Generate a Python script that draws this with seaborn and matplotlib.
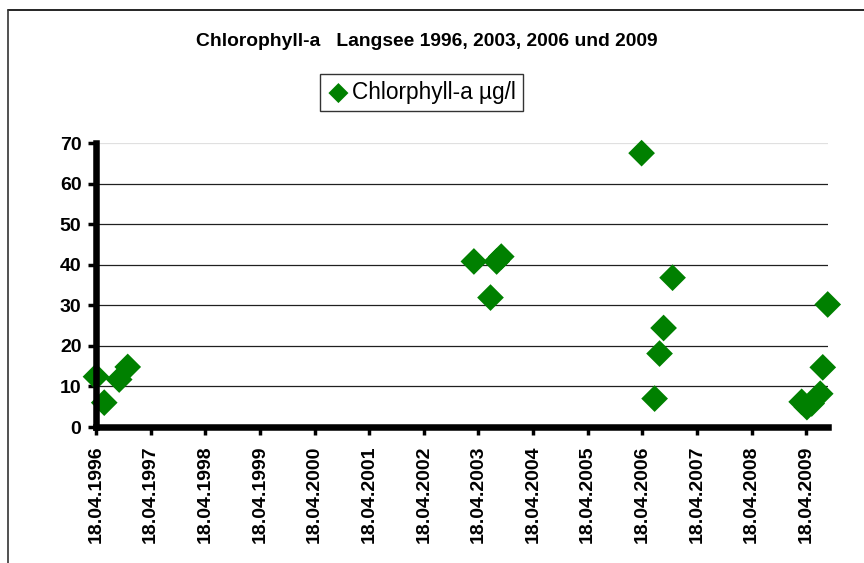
import pandas as pd
import seaborn as sns
import matplotlib.pyplot as plt
import matplotlib.dates as mdates
from matplotlib.lines import Line2D

# data
dates = ['1996-04-18', '1996-06-12', '1996-09-20', '1996-11-16',
         '2003-03-19', '2003-07-08', '2003-08-18', '2003-09-18',
         '2006-04-13', '2006-07-09', '2006-08-11', '2006-09-07', '2006-11-06',
         '2009-03-18', '2009-04-22', '2009-05-24', '2009-07-20', '2009-08-06', '2009-09-08']
chla = [12.4, 6.0, 11.7, 14.8,
        40.8, 31.9, 40.8, 42.0,
        67.5, 7.0, 18.1, 24.4, 36.8,
        6.2, 4.9, 5.8, 8.2, 14.7, 30.2]
tick_years = list(range(1996, 2010))
y_ticks = [0, 10, 20, 30, 40, 50, 60, 70]

df = pd.DataFrame({'Datum': pd.to_datetime(dates), 'Chlorophyll-a µg/l': chla})

sns.set_theme(style='white')
plt.rcParams['font.family'] = ['Liberation Sans', 'DejaVu Sans']
plt.rcParams['text.color'] = 'black'
plt.rcParams['xtick.color'] = 'black'
plt.rcParams['ytick.color'] = 'black'

fig = plt.figure(figsize=(8.64, 5.63), dpi=100)
ax = fig.add_axes([96 / 864, 1 - 427 / 563, (828 - 96) / 864, (427 - 143) / 563])

sns.scatterplot(data=df, x='Datum', y='Chlorophyll-a µg/l', marker='D', color='#008000',
                s=185, edgecolor='none', label='Chlorphyll-a µg/l', clip_on=False, zorder=5, ax=ax)

# axes
ax.set_xlim(pd.Timestamp('1996-04-18'), pd.Timestamp('2009-09-10'))
ax.set_ylim(0, 70)
ax.set_yticks(y_ticks)
ax.set_xticks([pd.Timestamp(f'{y}-04-18') for y in tick_years])
ax.xaxis.set_major_formatter(mdates.DateFormatter('%d.%m.%Y'))
ax.set_xlabel('')
ax.set_ylabel('')
for lbl in ax.get_xticklabels():
    lbl.set_rotation(90)
ax.tick_params(axis='both', labelsize=14, length=5.5, width=2.5, color='black',
               direction='out', bottom=True, left=True)
ax.tick_params(axis='x', pad=8)
ax.tick_params(axis='y', pad=5)
for lbl in ax.get_xticklabels() + ax.get_yticklabels():
    lbl.set_fontweight('bold')

ax.grid(axis='y', color='#202020', linewidth=0.9)
ax.yaxis.get_gridlines()[-1].set_color('#e0e0e0')
ax.set_axisbelow(True)
for side in ['top', 'right']:
    ax.spines[side].set_visible(False)
for side in ['left', 'bottom']:
    ax.spines[side].set_linewidth(4.7)
    ax.spines[side].set_color('black')
ax.spines['left'].set_zorder(6)
ax.spines['bottom'].set_zorder(6)

# title + legend
fig.text(427 / 864, 1 - 41 / 563, 'Chlorophyll-a   Langsee 1996, 2003, 2006 und 2009',
         ha='center', va='center', fontsize=13.9, fontweight='bold')
ax.get_legend().remove()
leg = fig.legend(loc='center', bbox_to_anchor=(421.5 / 864, 1 - 92.5 / 563), fontsize=16.3,
                 frameon=True, fancybox=False, handletextpad=0.1, handlelength=1.0,
                 borderpad=0.3, markerscale=0.75)
leg.get_frame().set_edgecolor('black')
leg.get_frame().set_linewidth(1.0)

# chart border (cropped)
fig.add_artist(Line2D([8 / 864, 1], [1 - 10 / 563, 1 - 10 / 563], color='black', lw=1.2))
fig.add_artist(Line2D([8 / 864, 8 / 864], [0, 1 - 10 / 563], color='#333333', lw=1.2))

plt.savefig('out.png', dpi=100)
